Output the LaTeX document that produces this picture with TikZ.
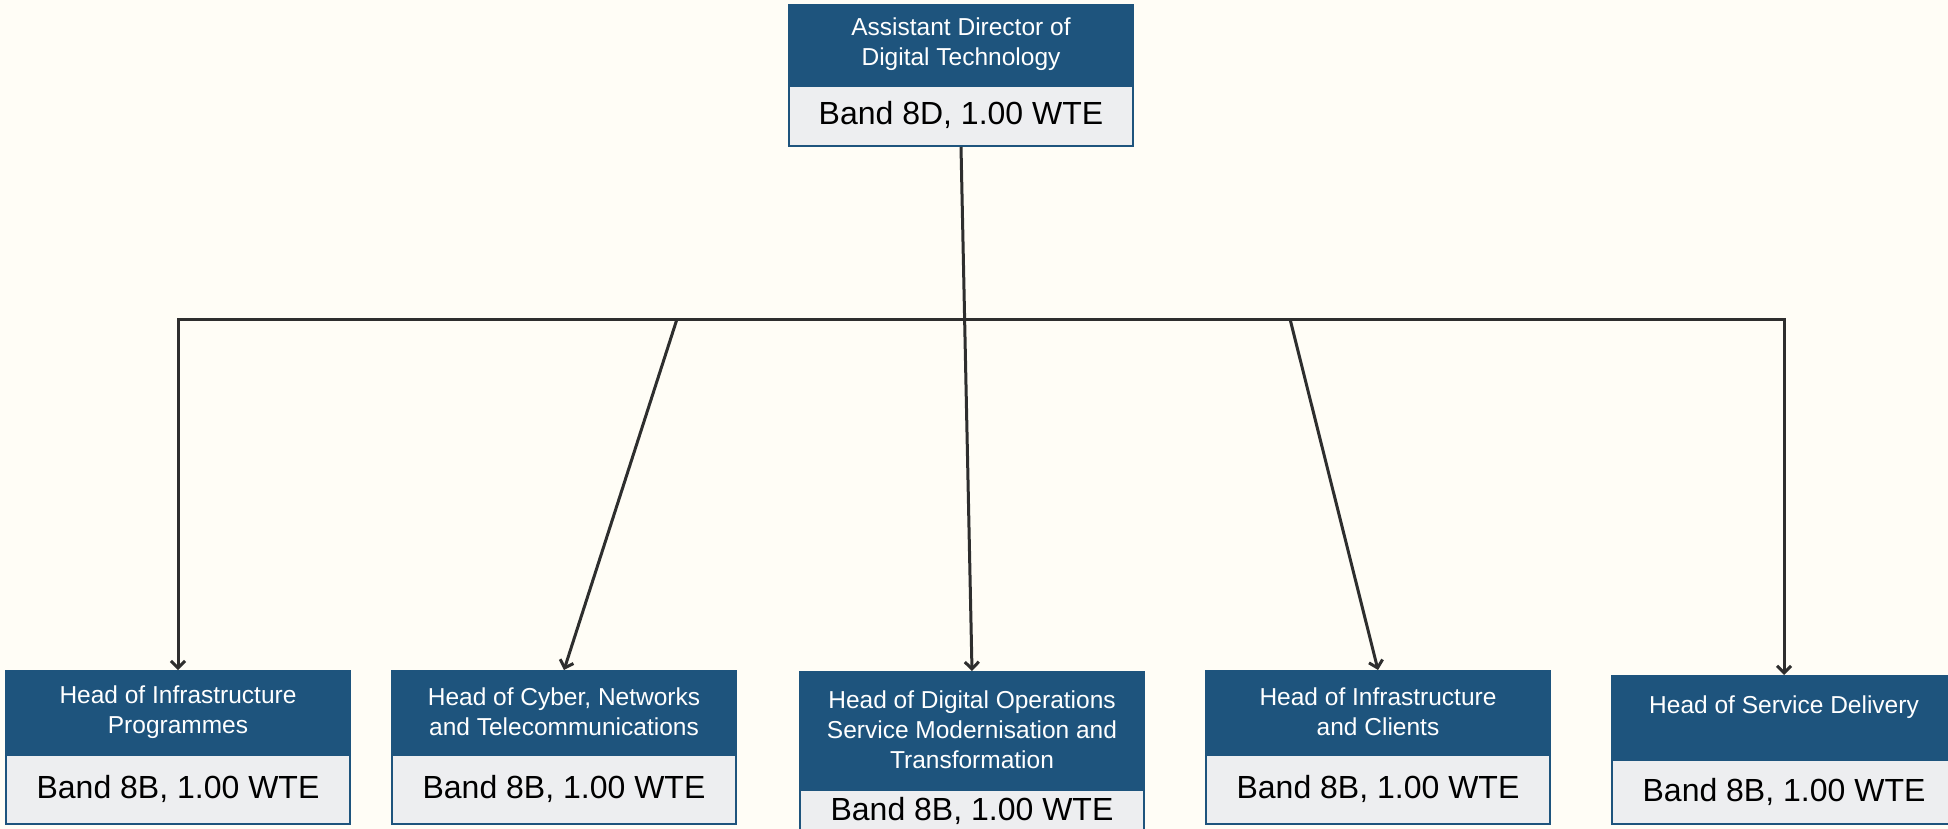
\documentclass[tikz,border=0pt]{standalone}
\usepackage{fontspec}
\setmainfont{Liberation Sans}
\usepackage{tikz}
\usetikzlibrary{positioning}
\usetikzlibrary{arrows.meta}

\definecolor{headblue}{HTML}{1E547D}
\definecolor{bandgrey}{HTML}{EDEEF0}
\definecolor{linegrey}{HTML}{2E2E2E}
\definecolor{paper}{HTML}{FFFDF6}

\begin{document}
\begin{tikzpicture}
 		[
 		x=1pt, y=-1pt,
 		conn/.style={draw=linegrey, line width=3pt, -{Straight Barb[length=7pt,width=14pt]}}
 		]
 		
 		% Two node styles: title part and band part
 		\tikzstyle{head node}=[rectangle,draw=headblue,fill=headblue,line width=2pt,text=white,align=center,minimum width=344pt,inner sep=0pt,font=\fontsize{24.5}{30}\selectfont];
 		\tikzstyle{band node}=[rectangle,draw=headblue,fill=bandgrey,line width=2pt,minimum width=344pt,inner sep=0pt,text height=23pt,text depth=5pt,font=\fontsize{32}{36}\selectfont];
 		
 		% Page
 		\fill[paper](0,0)rectangle(1948,829);
 		\useasboundingbox(0,0)rectangle(1948,829);
 		
 		% Assistant director
 		\node(ad)[head node, minimum height=79pt]at(961,44.5){Assistant Director of\\Digital Technology};
 		\node(ad-b)[band node, minimum height=60pt, below=0pt of ad]{Band 8D, 1.00 WTE};
 		
 		% Heads
 		\node(h1)[head node, minimum height=82pt]at(178,712){Head of Infrastructure\\Programmes};
 		\node(h1-b)[band node, minimum height=69pt, below=0pt of h1]{Band 8B, 1.00 WTE};
 		\node(h2)[head node, minimum height=82pt]at(564,712){Head of Cyber, Networks\\and Telecommunications};
 		\node(h2-b)[band node, minimum height=69pt, below=0pt of h2]{Band 8B, 1.00 WTE};
 		\node(h3)[head node, minimum height=116pt]at(972,730){Head of Digital Operations\\Service Modernisation and\\Transformation};
 		\node(h3-b)[band node, minimum height=69pt, text depth=32pt, below=0pt of h3]{Band 8B, 1.00 WTE};
 		\node(h4)[head node, minimum height=82pt]at(1378,712){Head of Infrastructure\\and Clients};
 		\node(h4-b)[band node, minimum height=69pt, below=0pt of h4]{Band 8B, 1.00 WTE};
 		\node(h5)[head node, minimum height=82pt, text depth=24pt]at(1784,717){Head of Service Delivery};
 		\node(h5-b)[band node, minimum height=64pt, below=0pt of h5]{Band 8B, 1.00 WTE};
 		
 		% Bus and its taps
 		\coordinate(bus)at(961,319);
 		\coordinate(t2)at(677,319);
 		\coordinate(t4)at(1290,319);
 		
 		% Connectors
 		\draw[conn](ad-b.south)--(h3.north);
 		\draw[conn,{Straight Barb[length=7pt,width=14pt]}-{Straight Barb[length=7pt,width=14pt]}](h1.north)--(h1.north|-bus)--(h5.north|-bus)--(h5.north);
 		\foreach\x in {2,4}\draw[conn](t\x)--(h\x.north);
 		
 		\end{tikzpicture}
\end{document}
